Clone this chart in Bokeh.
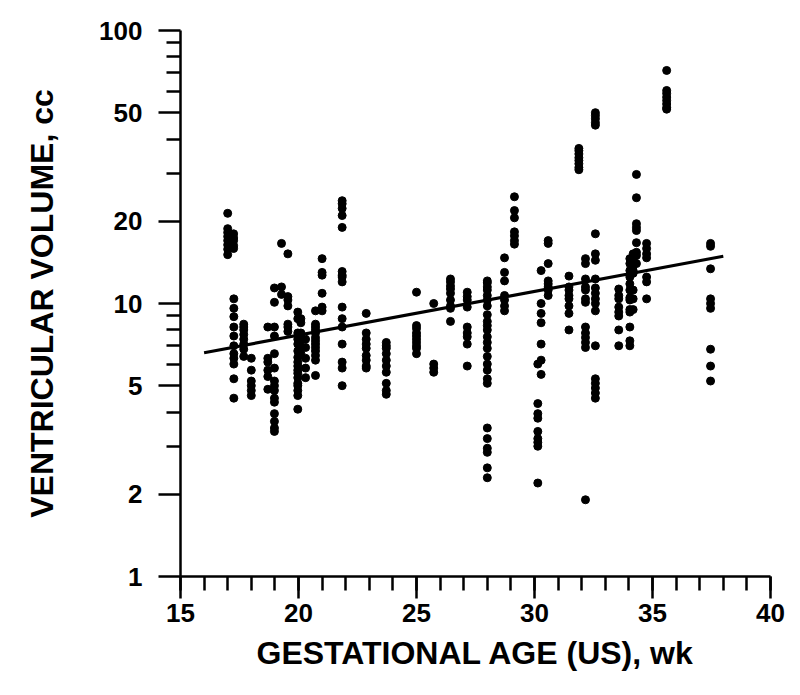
from bokeh.plotting import figure
from bokeh.models import FixedTicker, PrintfTickFormatter, Range1d
from bokeh.embed import file_html
from bokeh.resources import INLINE

# ---- data ----
ages = [17.0, 17.25, 17.26, 17.68, 18.0, 18.7, 18.98, 19.28, 19.55, 19.97,
        20.1, 20.3, 20.72, 21.0, 21.85, 22.87, 23.72, 25.0, 25.73, 26.44,
        27.15, 28.0, 28.73, 29.15, 30.14, 30.28, 30.58, 31.46, 31.88, 32.16,
        32.58, 33.57, 34.04, 34.18, 34.32, 34.75, 35.6, 37.46]

volumes = [
    [21.4, 18.8, 18.2, 17.6, 17.0, 16.4, 15.8, 15.1],
    [18.0, 17.4, 17.0, 16.3, 15.9],
    [10.4, 9.6, 8.95, 8.2, 7.6, 7.0, 6.55, 6.3, 6.0, 5.3, 4.5],
    [8.4, 8.2, 8.0, 7.7, 7.4, 7.1, 6.8, 6.4],
    [6.3, 5.7, 5.2, 5.0, 4.8, 4.6],
    [8.2, 6.3, 6.1, 5.7, 5.4, 4.85],
    [11.4, 10.1, 8.2, 7.6, 6.55, 5.8, 5.2, 5.0, 4.8, 4.5, 4.35, 3.95, 3.7, 3.5, 3.4],
    [16.6, 11.5, 10.8],
    [15.2, 10.6, 10.3, 9.8, 8.4, 8.2, 7.9],
    [9.3, 8.8, 7.8, 7.4, 7.1, 6.7, 6.35, 6.1, 5.9, 5.7, 5.55, 5.35, 5.1, 5.0, 4.8, 4.6, 4.1],
    [8.8, 8.5, 7.8, 7.3, 6.9, 6.55],
    [7.4, 6.9, 6.3, 5.8, 5.35],
    [9.4, 8.4, 8.2, 8.0, 7.8, 7.5, 7.3, 7.1, 6.9, 6.7, 6.45, 6.2, 5.45],
    [14.6, 13.0, 12.7, 10.9, 9.7, 9.4],
    [23.8, 23.2, 22.3, 21.0, 19.0, 13.1, 12.7, 12.5, 12.0, 9.7, 8.8, 8.2, 7.1, 6.1, 5.8, 5.0],
    [9.2, 7.8, 7.4, 7.1, 6.85, 6.45, 6.2, 5.9, 5.8],
    [7.2, 7.0, 6.85, 6.55, 6.2, 5.9, 5.6, 5.1, 4.8, 4.65],
    [11.0, 8.3, 8.1, 7.8, 7.6, 7.4, 7.2, 7.0, 6.85, 6.55],
    [10.0, 6.0, 5.8, 5.6],
    [12.3, 12.0, 11.6, 11.3, 10.9, 10.3, 9.8, 9.6, 8.6],
    [11.0, 10.6, 10.3, 9.7, 8.2, 7.8, 7.55, 7.1, 5.9],
    [12.1, 11.9, 11.5, 11.2, 10.7, 10.3, 9.8, 9.1, 8.6, 8.3, 8.0, 7.55, 7.2, 6.85,
     6.4, 6.0, 5.7, 5.3, 5.1, 3.5, 3.2, 2.95, 2.85, 2.5, 2.3],
    [14.7, 13.0, 12.1, 10.7, 10.3, 9.8, 9.4],
    [24.6, 21.9, 20.6, 18.3, 17.7, 17.0, 16.5],
    [6.0, 4.3, 3.95, 3.8, 3.4, 3.2, 3.1, 3.0, 2.2],
    [13.2, 10.0, 9.2, 8.5, 7.1, 6.2, 5.5],
    [17.0, 16.6, 14.0, 12.1, 11.8, 11.5, 11.2, 10.7],
    [12.6, 11.5, 11.2, 10.7, 10.4, 9.8, 9.2, 8.0],
    [37.0, 36.3, 35.3, 34.2, 33.4, 32.5, 31.5, 30.9],
    [14.6, 14.0, 12.3, 11.5, 11.2, 10.4, 10.1, 8.2, 7.8, 7.5, 7.2, 6.9, 1.91],
    [50.0, 48.8, 47.5, 46.0, 45.0, 18.0, 15.2, 14.4, 12.3, 11.4, 10.9, 10.4, 10.0,
     9.4, 7.0, 5.3, 5.1, 4.9, 4.7, 4.5],
    [11.3, 10.7, 10.4, 9.7, 9.3, 9.0, 8.0, 7.0],
    [14.6, 14.0, 13.2, 12.5, 11.8, 11.2, 10.5, 10.3, 9.5, 9.3, 8.2, 7.3, 7.0],
    [15.2, 14.6, 13.8, 13.2, 12.9, 11.2, 10.4, 9.5],
    [29.7, 24.4, 19.6, 19.0, 18.5, 16.7, 15.4, 15.0, 14.0],
    [16.6, 15.9, 15.2, 14.7, 12.5, 12.0, 10.4],
    [71.4, 60.3, 58.8, 57.0, 55.4, 53.8, 52.2, 51.5],
    [16.6, 16.2, 13.4, 10.4, 10.0, 9.6, 6.8, 5.9, 5.2],
]

fit_x = [16, 38]
fit_y = [6.6, 14.9]

x_major = [15, 20, 25, 30, 35, 40]
x_minor = list(range(15, 41))
y_major = [1, 2, 5, 10, 20, 50, 100]
y_minor = [3, 4, 6, 7, 8, 9, 30, 40, 60, 70, 80, 90]

xs, ys = [], []
for a, vals in zip(ages, volumes):
    for v in vals:
        xs.append(a)
        ys.append(v)

FONT = "Liberation Sans"

p = figure(width=798, height=690, x_range=Range1d(15, 40), y_range=Range1d(1, 100),
           y_axis_type="log", output_backend="svg", toolbar_location=None,
           min_border_left=180, min_border_top=30, min_border_right=28,
           min_border_bottom=114)
p.outline_line_color = None
p.grid.visible = False
p.background_fill_color = "white"
p.border_fill_color = "white"

p.scatter(xs, ys, size=8, color="black")
p.line(fit_x, fit_y, line_width=3.2, color="black")

p.xaxis.ticker = FixedTicker(ticks=x_major, minor_ticks=x_minor)
p.yaxis.ticker = FixedTicker(ticks=y_major, minor_ticks=y_minor)
p.yaxis.formatter = PrintfTickFormatter(format="%d")

for ax in (p.xaxis, p.yaxis):
    ax.axis_line_width = 2.5
    ax.axis_line_color = "black"
    ax.major_tick_line_width = 2.5
    ax.minor_tick_line_width = 2.5
    ax.major_tick_line_color = "black"
    ax.minor_tick_line_color = "black"
    ax.major_tick_in = 0
    ax.minor_tick_in = 0
    ax.major_tick_out = 22
    ax.minor_tick_out = 14
    ax.major_label_text_font = FONT
    ax.major_label_text_font_style = "bold"
    ax.major_label_text_font_size = "26px"
    ax.major_label_text_color = "black"
    ax.axis_label_text_font = FONT
    ax.axis_label_text_font_style = "bold"
    ax.axis_label_text_font_size = "32px"
    ax.axis_label_text_color = "black"

p.xaxis.axis_label = "GESTATIONAL AGE (US), wk"
p.yaxis.axis_label = "VENTRICULAR VOLUME, cc"
p.xaxis.major_label_standoff = 5
p.yaxis.major_label_standoff = 16
p.xaxis.axis_label_standoff = 10
p.yaxis.axis_label_standoff = 36

open("out.html", "w").write(file_html(p, INLINE))
